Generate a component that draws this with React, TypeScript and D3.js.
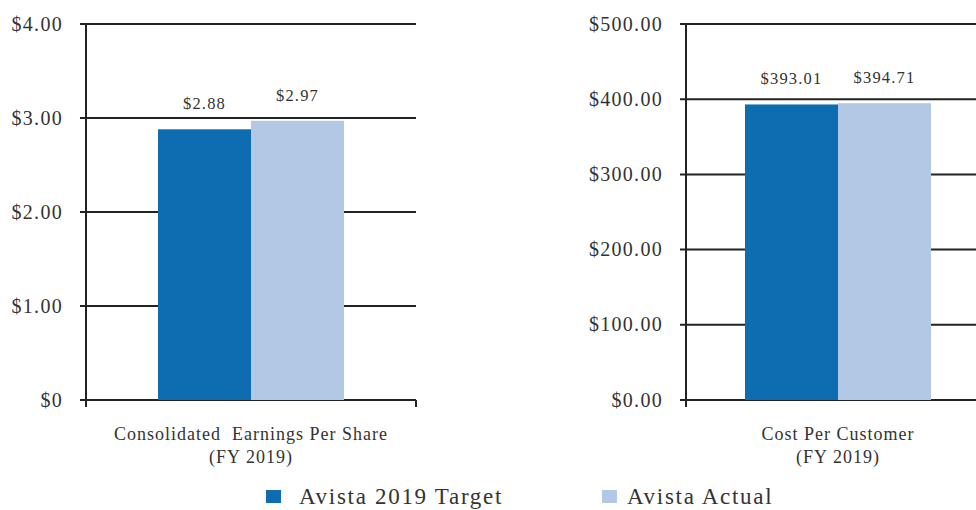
import React from 'react';
import { scaleLinear, scaleBand } from 'd3';

const seriesNames = ['Avista 2019 Target', 'Avista Actual'];
const seriesColors = ['#0e6cb0', '#b3c8e4'];

const epsValues = [2.88, 2.97];
const epsLabels = ['$2.88', '$2.97'];
const epsTicks = [0, 1, 2, 3, 4];
const epsTickLabels = ['$0', '$1.00', '$2.00', '$3.00', '$4.00'];

const costValues = [393.01, 394.71];
const costLabels = ['$393.01', '$394.71'];
const costTicks = [0, 100, 200, 300, 400, 500];
const costTickLabels = ['$0.00', '$100.00', '$200.00', '$300.00', '$400.00', '$500.00'];

const categoryLines = [
  ['Consolidated  Earnings Per Share', '(FY 2019)'],
  ['Cost Per Customer', '(FY 2019)'],
];

const font = '"Liberation Serif", "Times New Roman", serif';
const textColor = '#333';
const lineColor = '#222';

interface PanelProps {
  left: number;
  width: number;
  values: number[];
  labels: string[];
  ticks: number[];
  tickLabels: string[];
  category: string[];
  endTick: boolean;
}

const top = 24;
const bottom = 400;

const Panel: React.FC<PanelProps> = ({ left, width, values, labels, ticks, tickLabels, category, endTick }) => {
  const y = scaleLinear()
    .domain([0, ticks[ticks.length - 1]])
    .range([bottom, top]);
  const cx = left + width / 2;
  const x = scaleBand<string>()
    .domain(seriesNames)
    .range([cx - 93, cx + 93]);

  return (
    <g>
      {ticks.map((t, i) => (
        <g key={t}>
          <line x1={left - 6} x2={left + width} y1={y(t)} y2={y(t)} stroke={lineColor} strokeWidth={2} />
          <text x={left - 23} y={y(t)} dy="0.33em" textAnchor="end" fontSize={20} letterSpacing={1.3} fill={textColor} fontFamily={font}>
            {tickLabels[i]}
          </text>
        </g>
      ))}
      {values.map((v, i) => (
        <g key={i}>
          <rect x={x(seriesNames[i])} y={y(v)} width={x.bandwidth()} height={bottom - y(v)} fill={seriesColors[i]} />
          <text x={(x(seriesNames[i]) as number) + x.bandwidth() / 2} y={y(v) - 20} textAnchor="middle" fontSize={16.5} letterSpacing={1.2} fill={textColor} fontFamily={font}>
            {labels[i]}
          </text>
        </g>
      ))}
      <line x1={left} x2={left} y1={top} y2={bottom + 7} stroke={lineColor} strokeWidth={2} />
      {endTick && <line x1={left + width} x2={left + width} y1={bottom} y2={bottom + 7} stroke={lineColor} strokeWidth={2} />}
      {category.map((c, i) => (
        <text key={i} x={cx} y={440 + i * 23} textAnchor="middle" fontSize={18} letterSpacing={1} fill={textColor} fontFamily={font} style={{ whiteSpace: 'pre' }}>
          {c}
        </text>
      ))}
    </g>
  );
};

const App: React.FC = () => {
  const legend = [
    { x: 266, tx: 299, label: seriesNames[0], color: seriesColors[0] },
    { x: 602, tx: 627, label: seriesNames[1], color: seriesColors[1] },
  ];
  return (
    <svg width={976} height={510} style={{ position: 'absolute', left: 0, top: 0, background: '#fff' }}>
      <Panel left={86} width={330} values={epsValues} labels={epsLabels} ticks={epsTicks} tickLabels={epsTickLabels} category={categoryLines[0]} endTick={true} />
      <Panel left={686} width={304} values={costValues} labels={costLabels} ticks={costTicks} tickLabels={costTickLabels} category={categoryLines[1]} endTick={false} />
      {legend.map(l => (
        <g key={l.label}>
          <rect x={l.x} y={490} width={15} height={13} fill={l.color} />
          <text x={l.tx} y={504} fontSize={23} letterSpacing={1.7} fill={textColor} fontFamily={font}>
            {l.label}
          </text>
        </g>
      ))}
    </svg>
  );
};

export default App;
